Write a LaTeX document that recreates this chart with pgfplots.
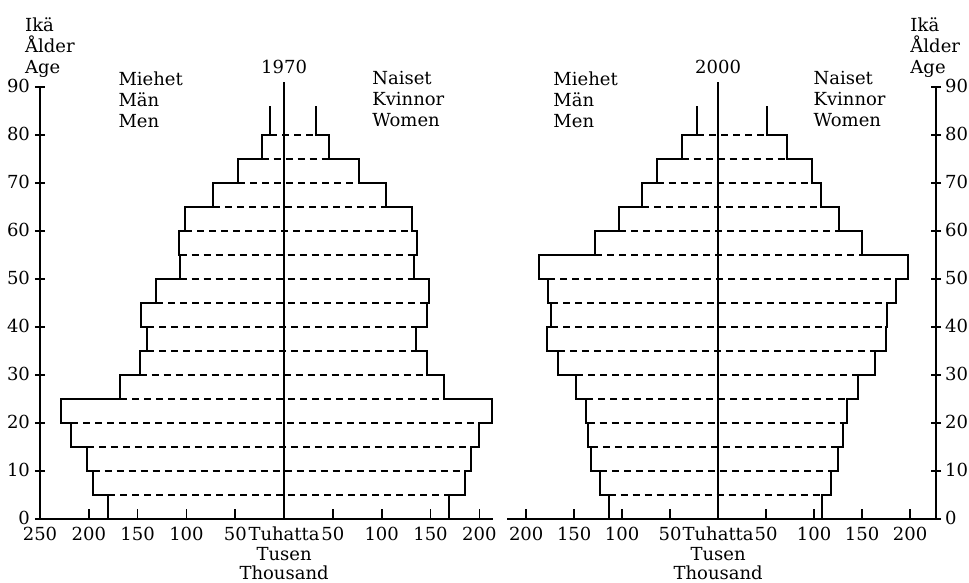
\documentclass[border=0pt]{standalone}
\usepackage{fontspec}
\setmainfont{DejaVu Serif}
\usepackage{pgfplots}
\usepackage{pgfplotstable}
\pgfplotsset{compat=1.18}

% ---------- data: outline corners (x = thousand persons, y = age) ----------
\pgfplotstableread{
x y
-180 0
-180 5
-196 5
-196 10
-202 10
-202 15
-218 15
-218 20
-228 20
-228 25
-168 25
-168 30
-148 30
-148 35
-140 35
-140 40
-147 40
-147 45
-131 45
-131 50
-107 50
-107 55
-108 55
-108 60
-101 60
-101 65
-73 65
-73 70
-47 70
-47 75
-23 75
-23 80
-14 80
-14 86
}\menA
\pgfplotstableread{
x y
169 0
169 5
185 5
185 10
191 10
191 15
200 15
200 20
213 20
213 25
164 25
164 30
146 30
146 35
135 35
135 40
146 40
146 45
148 45
148 50
133 50
133 55
136 55
136 60
131 60
131 65
104 65
104 70
77 70
77 75
46 75
46 80
33 80
33 86
}\womenA
\pgfplotstableread{
x y
-180 5
169 5
nan nan
-196 10
185 10
nan nan
-202 15
191 15
nan nan
-218 20
200 20
nan nan
-168 25
164 25
nan nan
-148 30
146 30
nan nan
-140 35
135 35
nan nan
-140 40
135 40
nan nan
-131 45
146 45
nan nan
-107 50
133 50
nan nan
-107 55
133 55
nan nan
-101 60
131 60
nan nan
-73 65
104 65
nan nan
-47 70
77 70
nan nan
-23 75
46 75
nan nan
-14 80
33 80
}\dashA
\pgfplotstableread{
x y
-114 0
-114 5
-123 5
-123 10
-132.5 10
-132.5 15
-136 15
-136 20
-137.5 20
-137.5 25
-148 25
-148 30
-167 30
-167 35
-178 35
-178 40
-174 40
-174 45
-177 45
-177 50
-187 50
-187 55
-128 55
-128 60
-103 60
-103 65
-79.5 65
-79.5 70
-64 70
-64 75
-38 75
-38 80
-22 80
-22 86
}\menB
\pgfplotstableread{
x y
108 0
108 5
118 5
118 10
125 10
125 15
130 15
130 20
134 20
134 25
146 25
146 30
163 30
163 35
175 35
175 40
176 40
176 45
185 45
185 50
198 50
198 55
150 55
150 60
126 60
126 65
107 65
107 70
98 70
98 75
72 75
72 80
51 80
51 86
}\womenB
\pgfplotstableread{
x y
-114 5
108 5
nan nan
-123 10
118 10
nan nan
-132.5 15
125 15
nan nan
-136 20
130 20
nan nan
-137.5 25
134 25
nan nan
-148 30
146 30
nan nan
-167 35
163 35
nan nan
-174 40
175 40
nan nan
-174 45
176 45
nan nan
-177 50
185 50
nan nan
-128 55
150 55
nan nan
-103 60
126 60
nan nan
-79.5 65
107 65
nan nan
-64 70
98 70
nan nan
-38 75
72 75
nan nan
-22 80
51 80
}\dashB

\tikzset{txt/.style={anchor=north west, align=left, inner sep=0pt, font=\fontsize{9}{10.5}\selectfont}}

\pgfplotsset{pyr/.style={
  scale only axis, height=216pt, ymin=0, ymax=90, clip=false,
  axis x line=bottom,
  tick align=inside, major tick length=5pt,
  tick style={line width=0.8pt, black},
  ytick={0,10,...,90},
  unbounded coords=jump,
  cycle list={{black}},
  /pgf/number format/assume math mode=true,
  tick label style={font=\fontsize{9}{10.5}\selectfont},
  xticklabel style={align=center, yshift=-0.5pt, font=\fontsize{9}{9.8}\selectfont},
  every axis plot/.append style={black, line width=1pt, no markers},
}}

\begin{document}
\begin{tikzpicture}
\useasboundingbox (-20pt,-32pt) rectangle (464.5pt,259.5pt);
% ---------------- 1970 ----------------
\begin{axis}[pyr, at={(0pt,0pt)}, anchor=south west, width=226.5pt,
  xmin=-250, xmax=214, axis y line=left,
  axis line style={-, line width=0.9pt, black},
  yticklabel style={xshift=1pt, yshift=0.5pt},
  xtick={-250,-200,-150,-100,-50,0,50,100,150,200},
  xticklabels={250,200,150,100,50,{Tuhatta\\Tusen\\Thousand},50,100,150,200}]
\addplot[black, line width=0.9pt, dash pattern=on 3.5pt off 2.5pt] table[x=x,y=y] {\dashA};
\addplot[black] table[x=x,y=y] {\menA};
\addplot[black] table[x=x,y=y] {\womenA};
\addplot[black] coordinates {(0,0) (0,91)};
\node[anchor=base, font=\fontsize{9}{10.5}\selectfont] at (axis cs:0,92.9) {1970};
\node[txt] at (axis cs:-170,93.3) {Miehet\\Män\\Men};
\node[txt] at (axis cs:90,93.3) {Naiset\\Kvinnor\\Women};
\node[txt] at (axis cs:-265.6,104.6) {Ikä\\Ålder\\Age};
\end{axis}
% ---------------- 2000 ----------------
\begin{axis}[pyr, at={(233.5pt,0pt)}, anchor=south west, width=214.5pt,
  xmin=-220, xmax=227, axis y line=right,
  axis line style={-, line width=0.9pt, black},
  yticklabel style={xshift=-1.5pt, yshift=0.5pt},
  xtick={-200,-150,-100,-50,0,50,100,150,200},
  xticklabels={200,150,100,50,{Tuhatta\\Tusen\\Thousand},50,100,150,200}]
\addplot[black, line width=0.9pt, dash pattern=on 3.5pt off 2.5pt] table[x=x,y=y] {\dashB};
\addplot[black] table[x=x,y=y] {\menB};
\addplot[black] table[x=x,y=y] {\womenB};
\addplot[black] coordinates {(0,0) (0,91)};
\node[anchor=base, font=\fontsize{9}{10.5}\selectfont] at (axis cs:0,92.9) {2000};
\node[txt] at (axis cs:-172,93.3) {Miehet\\Män\\Men};
\node[txt] at (axis cs:99,93.3) {Naiset\\Kvinnor\\Women};
\node[txt] at (axis cs:200,104.6) {Ikä\\Ålder\\Age};
\end{axis}
\end{tikzpicture}
\end{document}
